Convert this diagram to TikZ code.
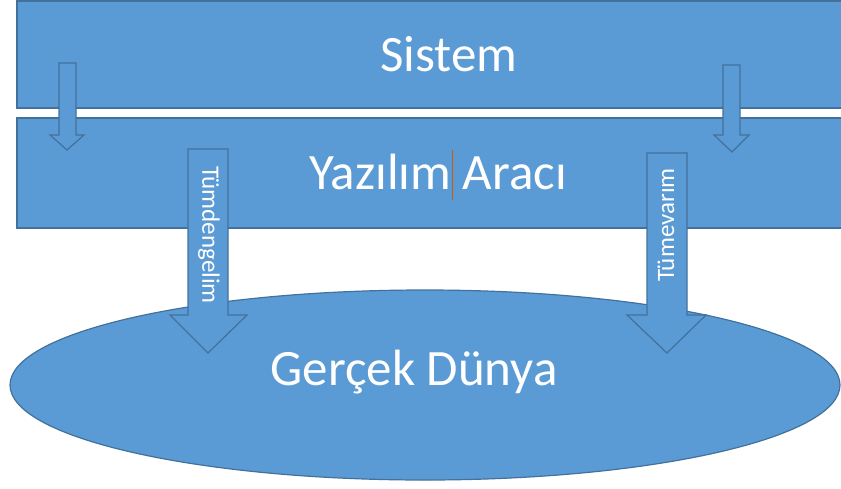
\documentclass[tikz,border=0pt]{standalone}
\usepackage{fontspec}
\setmainfont{Carlito}
\begin{document}
\begin{tikzpicture}[x=1pt,y=-1pt,
  blockfill/.style={fill=boxblue,draw=edgeblue,line width=1.2pt},
  bigtext/.style={text=white,font=\fontsize{51}{53}\selectfont,inner sep=0pt},
  arrowtext/.style={text=white,font=\fontsize{25}{27}\selectfont,inner sep=0pt}]
\definecolor{boxblue}{HTML}{5B9BD5}
\definecolor{edgeblue}{HTML}{41719C}
\definecolor{caret}{HTML}{C55A11}
\useasboundingbox (0,0) rectangle (841,488);
\clip (0,0) rectangle (841,488);
% the two layers and the ground
\draw[blockfill] (17,1) rectangle (860,108);
\node[coordinate] (sys) at (449,54) {};
\draw[blockfill] (17,118) rectangle (860,228);
\node[coordinate] (tool) at (438,172) {};
\draw[blockfill] (425,385) ellipse [x radius=415, y radius=95];
\node[coordinate] (world) at (414,372) {};
\node[bigtext] (sysl) at (sys) {Sistem};
\node[bigtext] (tooll) at (tool) {Yazılım Aracı};
\node[bigtext] (worldl) at (world) {Gerçek Dünya};
\draw[caret,line width=1pt] (452,150) -- (452,200);
% small arrows from the system layer to the tool layer
\draw[blockfill] (59,63) -- (76,63) -- (76,135) -- (84,135) -- (67,150) -- (50,135) -- (59,135) -- cycle;
\draw[blockfill] (723,65) -- (740,65) -- (740,135) -- (749,135) -- (732,152) -- (714,135) -- (723,135) -- cycle;
% labelled block arrows down to the real world
\draw[blockfill] (188,149) -- (228,149) -- (228,315) -- (247,315) -- (208,353) -- (170,315) -- (188,315) -- cycle;
\node[arrowtext,rotate=-90] (ded) at (209,235) {Tümdengelim};
\draw[blockfill] (647,153) -- (687,153) -- (687,315) -- (706,315) -- (667,353) -- (627,315) -- (647,315) -- cycle;
\node[arrowtext,rotate=90] (ind) at (666,225) {Tümevarım};
\end{tikzpicture}
\end{document}
